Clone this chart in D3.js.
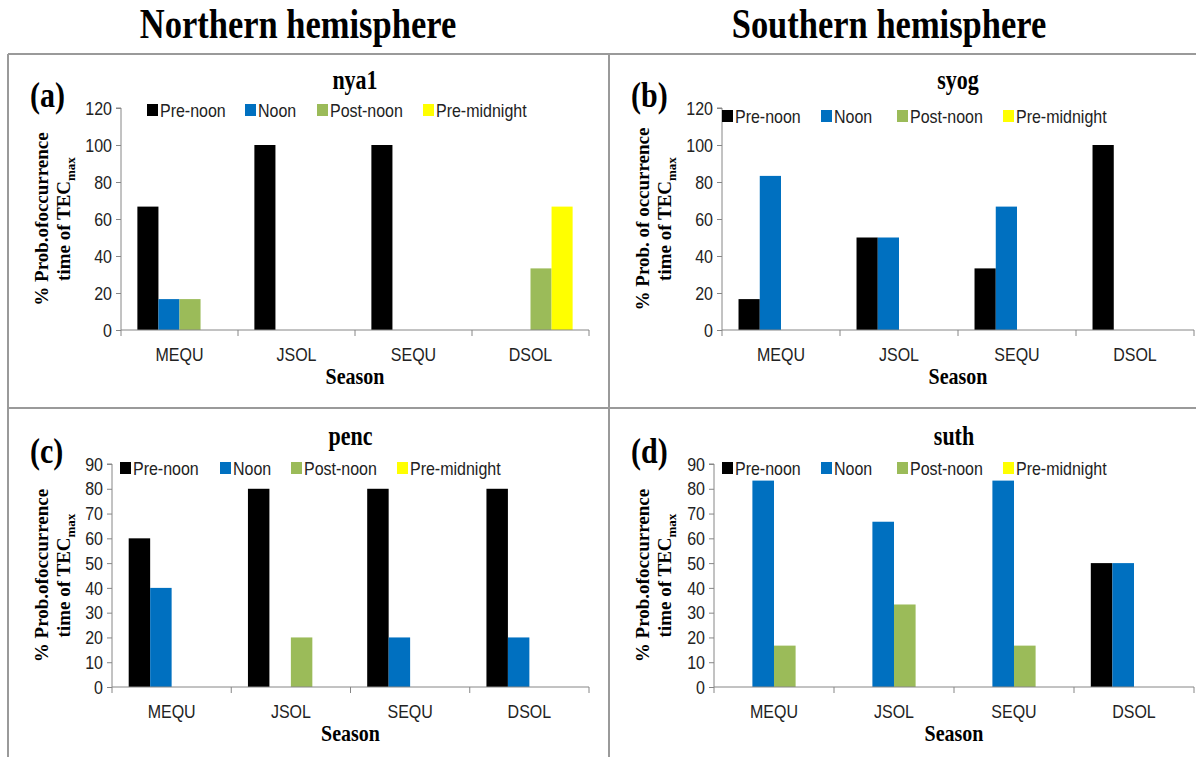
<!DOCTYPE html>
<html>
<head>
<meta charset="utf-8">
<script src="https://cdn.jsdelivr.net/npm/d3@7"></script>
<style>
  body { margin:0; background:#fff; }
  .axis path, .axis line { stroke:#868686; }
  .axis text { font-family:"Liberation Sans", Arial, sans-serif; font-size:16px; fill:#222; }
  .tall, .axis text { transform-box: fill-box; transform-origin: center; transform: scaleY(1.2); }
</style>
</head>
<body>
<div id="Canvas"></div>
<script>
// data
const seasons = ["MEQU", "JSOL", "SEQU", "DSOL"]
const seriesNames = ["Pre-noon", "Noon", "Post-noon", "Pre-midnight"]
const seriesColors = ["#000000", "#0070C0", "#9BBB59", "#FFFF00"]
const stations = ["nya1", "syog", "penc", "suth"]
const panelTags = ["(a)", "(b)", "(c)", "(d)"]
const hemispheres = ["Northern hemisphere", "Southern hemisphere"]
// rows = season, cols = series
const nya1Values = [[66.7, 16.7, 16.7, 0], [100, 0, 0, 0], [100, 0, 0, 0], [0, 0, 33.3, 66.7]]
const syogValues = [[16.7, 83.3, 0, 0], [50, 50, 0, 0], [33.3, 66.7, 0, 0], [100, 0, 0, 0]]
const pencValues = [[60, 40, 0, 0], [80, 0, 20, 0], [80, 20, 0, 0], [80, 20, 0, 0]]
const suthValues = [[0, 83.3, 16.7, 0], [0, 66.7, 33.3, 0], [0, 83.3, 16.7, 0], [50, 50, 0, 0]]
const yMax = [120, 120, 90, 90]
const yStep = [20, 20, 10, 10]
const yLabelTop = ["% Prob.ofoccurrence", "% Prob. of occurrence", "% Prob.ofoccurrence", "% Prob.ofoccurrence"]
const allValues = [nya1Values, syogValues, pencValues, suthValues]

// layout of the 4 panels
const panels = [
    {left: 8,   x0: 121, x1: 589,  yTop: 108, yBot: 330, legendY: 110, legendX: [147, 245, 317, 423]},
    {left: 609, x0: 722, x1: 1194, yTop: 108, yBot: 330, legendY: 116, legendX: [722, 821, 897, 1003]},
    {left: 8,   x0: 112, x1: 589,  yTop: 464, yBot: 687, legendY: 468, legendX: [120, 220, 291, 397]},
    {left: 609, x0: 714, x1: 1194, yTop: 464, yBot: 687, legendY: 468, legendX: [722, 821, 897, 1003]}
]
const serif = "'Liberation Serif', 'Times New Roman', serif"

let svg = d3.select("#Canvas")
    .append("svg")
    .attr("width", 1196)
    .attr("height", 757)

// frame
let frame = svg.append("g").attr("stroke", "#9a9a9a").attr("stroke-width", 2)
frame.append("line").attr("x1", 8).attr("x2", 1196).attr("y1", 54).attr("y2", 54)
frame.append("line").attr("x1", 8).attr("x2", 1196).attr("y1", 408).attr("y2", 408)
frame.append("line").attr("x1", 8).attr("x2", 8).attr("y1", 54).attr("y2", 757)
frame.append("line").attr("x1", 609).attr("x2", 609).attr("y1", 54).attr("y2", 757)

// headers
svg.selectAll(".hemi")
    .data(hemispheres)
    .enter()
    .append("text")
    .attr("class", "hemi tall")
    .attr("x", (d, i) => i == 0 ? 298 : 889)
    .attr("y", 36)
    .attr("text-anchor", "middle")
    .style("font-family", serif)
    .style("font-weight", "bold")
    .style("font-size", "34.5px")
    .text(d => d)

panels.forEach((p, k) => {
    let g = svg.append("g")
    let values = allValues[k]

    let xScale = d3.scaleBand().domain(seasons).range([p.x0, p.x1])
    let bw = xScale.bandwidth()
    let subScale = d3.scaleBand().domain(seriesNames).range([bw * 0.14, bw * 0.86])
    let yScale = d3.scaleLinear().domain([0, yMax[k]]).range([p.yBot, p.yTop])

    // bars
    let groups = g.selectAll(".grp")
        .data(values)
        .enter()
        .append("g")
        .attr("transform", (d, i) => `translate(${xScale(seasons[i])},0)`)
    groups.selectAll("rect")
        .data(d => d.map((v, j) => ({v: v, s: seriesNames[j], c: seriesColors[j]})))
        .enter()
        .append("rect")
        .filter(d => d.v > 0)
        .attr("x", d => subScale(d.s))
        .attr("width", subScale.bandwidth())
        .attr("y", d => yScale(d.v))
        .attr("height", d => yScale(0) - yScale(d.v))
        .attr("fill", d => d.c)

    // axes
    let yAxis = d3.axisLeft(yScale)
        .tickValues(d3.range(0, yMax[k] + 1, yStep[k]))
        .tickSize(5).tickPadding(4)
    g.append("g").attr("class", "axis")
        .attr("transform", `translate(${p.x0},0)`)
        .call(yAxis)
        .call(a => a.select(".domain").attr("d", `M-5,${p.yTop}H0V${p.yBot}`))

    let xAxis = d3.axisBottom(xScale).tickSize(0).tickPadding(19)
    let xa = g.append("g").attr("class", "axis")
        .attr("transform", `translate(0,${p.yBot})`)
        .call(xAxis)
    xa.select(".domain").attr("d", `M${p.x0},0H${p.x1}`)
    xa.selectAll(".sep")
        .data(d3.range(seasons.length + 1))
        .enter()
        .append("line")
        .attr("x1", i => p.x0 + i * bw).attr("x2", i => p.x0 + i * bw)
        .attr("y1", 0).attr("y2", 6)
        .attr("stroke", "#868686")

    // legend
    let leg = g.selectAll(".leg")
        .data(seriesNames)
        .enter()
        .append("g")
        .attr("transform", (d, i) => `translate(${p.legendX[i]},${p.legendY})`)
    leg.append("rect")
        .attr("x", 0).attr("y", -6).attr("width", 11).attr("height", 12)
        .attr("fill", (d, i) => seriesColors[i])
    leg.append("text")
        .attr("class", "tall")
        .attr("x", 13).attr("y", 6)
        .style("font-family", "'Liberation Sans', Arial, sans-serif")
        .style("font-size", "16px")
        .attr("fill", "#222")
        .text(d => d)

    // titles
    g.append("text")
        .attr("class", "tall")
        .attr("x", (p.x0 + p.x1) / 2).attr("y", p.yTop - 21)
        .attr("text-anchor", "middle")
        .style("font-family", serif).style("font-weight", "bold").style("font-size", "22px")
        .text(stations[k])
    g.append("text")
        .attr("class", "tall")
        .attr("x", p.left + 22).attr("y", p.yTop - 3)
        .style("font-family", serif).style("font-weight", "bold").style("font-size", "30px")
        .text(panelTags[k])
    g.append("text")
        .attr("class", "tall")
        .attr("x", (p.x0 + p.x1) / 2).attr("y", p.yBot + 53)
        .attr("text-anchor", "middle")
        .style("font-family", serif).style("font-weight", "bold").style("font-size", "20px")
        .text("Season")

    // y label (two lines)
    let cy = (p.yTop + p.yBot) / 2
    g.append("text")
        .attr("transform", `translate(${p.left + 40},${cy}) rotate(-90)`)
        .attr("text-anchor", "middle")
        .style("font-family", serif).style("font-weight", "bold").style("font-size", "19px")
        .text(yLabelTop[k])
    let l2 = g.append("text")
        .attr("transform", `translate(${p.left + 62},${cy}) rotate(-90)`)
        .attr("text-anchor", "middle")
        .style("font-family", serif).style("font-weight", "bold").style("font-size", "19px")
    l2.append("tspan").text("time of TEC")
    l2.append("tspan").attr("dy", 5).style("font-size", "13px").text("max")
})
</script>
</body>
</html>
